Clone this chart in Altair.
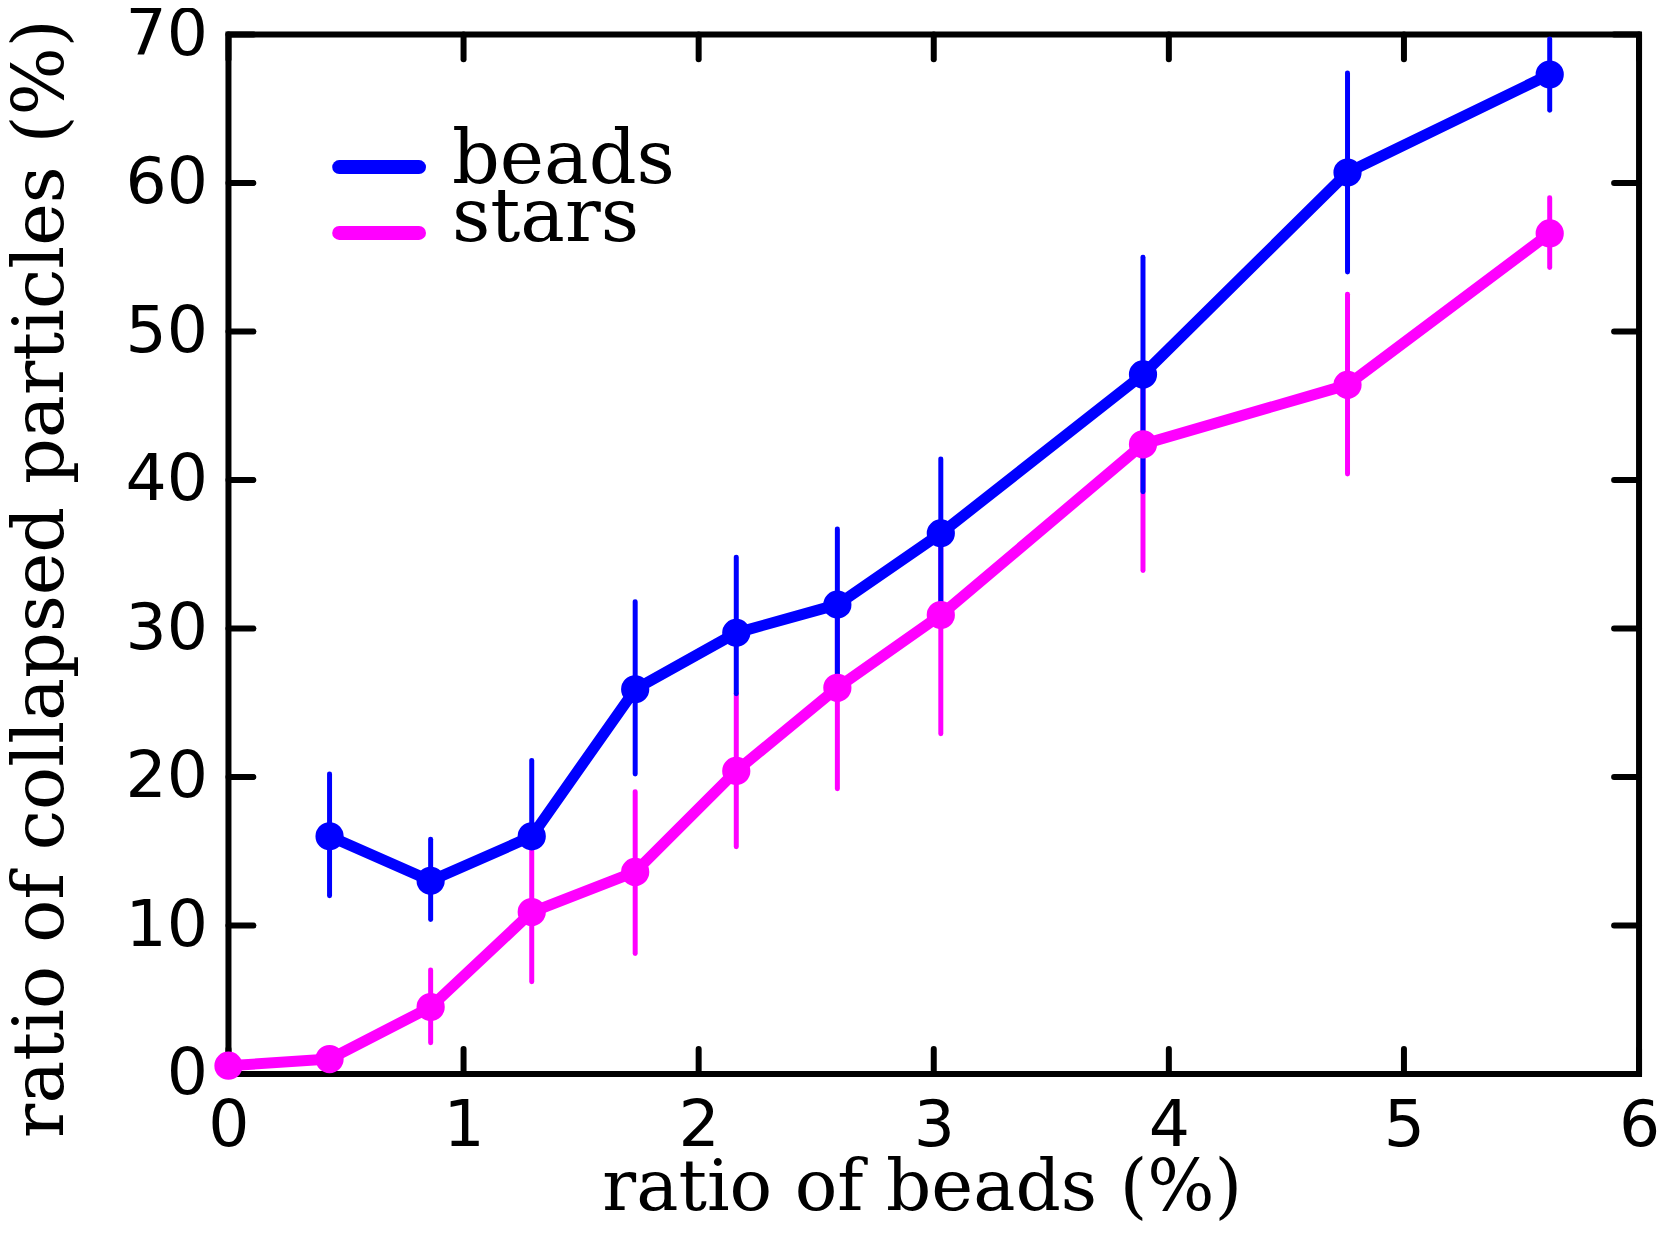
import altair as alt
import pandas as pd

# ---------------- data ----------------
series_names = ["beads", "stars"]
series_colors = ["#0000ff", "#ff00ff"]

bead_x = [0.43, 0.86, 1.29, 1.73, 2.16, 2.59, 3.03, 3.89, 4.76, 5.62]
bead_y = [16.0, 13.0, 16.0, 25.9, 29.7, 31.6, 36.4, 47.1, 60.7, 67.3]
bead_lo = [12.0, 10.4, 15.6, 20.2, 25.6, 26.5, 31.4, 39.2, 54.0, 64.9]
bead_hi = [20.2, 15.8, 21.1, 31.8, 34.8, 36.7, 41.4, 55.0, 67.4, 69.7]

star_x = [0.0, 0.43, 0.86, 1.29, 1.73, 2.16, 2.59, 3.03, 3.89, 4.76, 5.62]
star_y = [0.55, 1.0, 4.5, 10.9, 13.6, 20.4, 26.0, 30.9, 42.4, 46.4, 56.6]
star_lo = [0.55, 1.0, 2.1, 6.2, 8.1, 15.3, 19.2, 22.9, 33.9, 40.4, 54.3]
star_hi = [0.55, 1.0, 7.0, 15.6, 19.0, 25.6, 31.6, 36.4, 47.0, 52.5, 59.0]

x_ticks = [0, 1, 2, 3, 4, 5, 6]
y_ticks = [0, 10, 20, 30, 40, 50, 60, 70]

x_title = "ratio of beads (%)"
y_title = "ratio of collapsed particles (%)"

# ---------------- tables ----------------
beads = pd.DataFrame({"series": "beads", "x": bead_x, "y": bead_y, "lo": bead_lo, "hi": bead_hi})
stars = pd.DataFrame({"series": "stars", "x": star_x, "y": star_y, "lo": star_lo, "hi": star_hi})
xt = pd.DataFrame({"x": x_ticks})
yt = pd.DataFrame({"y": y_ticks})

W, H = 1414, 1042
TICK = 25
SERIF = "DejaVu Serif"

xs = alt.Scale(domain=[0, 6], nice=False, zero=False)
ys = alt.Scale(domain=[0, 70], nice=False, zero=False)

x_axis = alt.Axis(values=x_ticks, ticks=False, tickSize=0, domain=False, grid=False,
                  labelFont="DejaVu Sans", labelFontSize=65, labelColor="black",
                  labelPadding=21, labelFlush=False, labelOverlap=False,
                  title=x_title, titleFont=SERIF, titleFontSize=71,
                  titleFontWeight="normal", titleColor="black",
                  titleX=695, titleY=136, titleBaseline="alphabetic", titleAlign="center")
y_axis = alt.Axis(values=y_ticks, ticks=False, tickSize=0, domain=False, grid=False,
                  labelFont="DejaVu Sans", labelFontSize=65, labelColor="black",
                  labelPadding=21, labelFlush=False, labelOverlap=False,
                  title=y_title, titleFont=SERIF, titleFontSize=72,
                  titleFontWeight="normal", titleColor="black", titleAngle=270,
                  titleX=-166, titleY=545, titleBaseline="alphabetic", titleAlign="center")

X = alt.X("x:Q", scale=xs, axis=x_axis)
color = alt.Color("series:N", scale=alt.Scale(domain=series_names, range=series_colors), legend=None)

tick_style = dict(color="black", strokeWidth=6, strokeCap="round")
ticks_left = alt.Chart(yt).mark_rule(**tick_style).encode(
    y=alt.Y("y:Q", scale=ys, axis=y_axis), x=alt.value(0), x2=alt.value(TICK))
ticks_right = alt.Chart(yt).mark_rule(**tick_style).encode(
    y=alt.Y("y:Q", scale=ys, axis=y_axis), x=alt.value(W - TICK), x2=alt.value(W))
ticks_bottom = alt.Chart(xt).mark_rule(**tick_style).encode(
    x=X, y=alt.value(H - TICK), y2=alt.value(H))
ticks_top = alt.Chart(xt).mark_rule(**tick_style).encode(
    x=X, y=alt.value(0), y2=alt.value(TICK))


def bars(df):
    return alt.Chart(df).mark_rule(strokeWidth=5, strokeCap="round").encode(
        x=X, y=alt.Y("lo:Q", scale=ys, axis=y_axis), y2="hi:Q", color=color)


def line(df):
    return alt.Chart(df).mark_line(strokeWidth=11, strokeJoin="round", strokeCap="round").encode(
        x=X, y=alt.Y("y:Q", scale=ys, axis=y_axis), color=color)


def points(df):
    return alt.Chart(df).mark_circle(size=800, opacity=1).encode(
        x=X, y=alt.Y("y:Q", scale=ys, axis=y_axis), color=color)


# manual legend
legend_layers = []
leg_line_y = [133, 199]
leg_text_y = [149, 207]
for i, name in enumerate(series_names):
    ldf = pd.DataFrame({"series": [name]})
    legend_layers.append(
        alt.Chart(ldf).mark_rule(strokeWidth=14, strokeCap="round").encode(
            x=alt.value(111), x2=alt.value(191), y=alt.value(leg_line_y[i]), color=color))
    legend_layers.append(
        alt.Chart(ldf).mark_text(align="left", baseline="alphabetic", font=SERIF,
                                 fontSize=75, color="black").encode(
            x=alt.value(224), y=alt.value(leg_text_y[i]), text="series:N"))

chart = alt.layer(
    ticks_left, ticks_right, ticks_bottom, ticks_top,
    bars(stars), bars(beads),
    line(beads), line(stars),
    points(beads), points(stars),
    *legend_layers,
).properties(
    width=W, height=H,
    autosize=alt.AutoSizeParams(type="none"),
    padding={"left": 221, "top": 25, "right": 18, "bottom": 153},
    background="white",
).configure_view(stroke="black", strokeWidth=6)

chart.save("out.html", embed_options={"renderer": "svg", "actions": False})
